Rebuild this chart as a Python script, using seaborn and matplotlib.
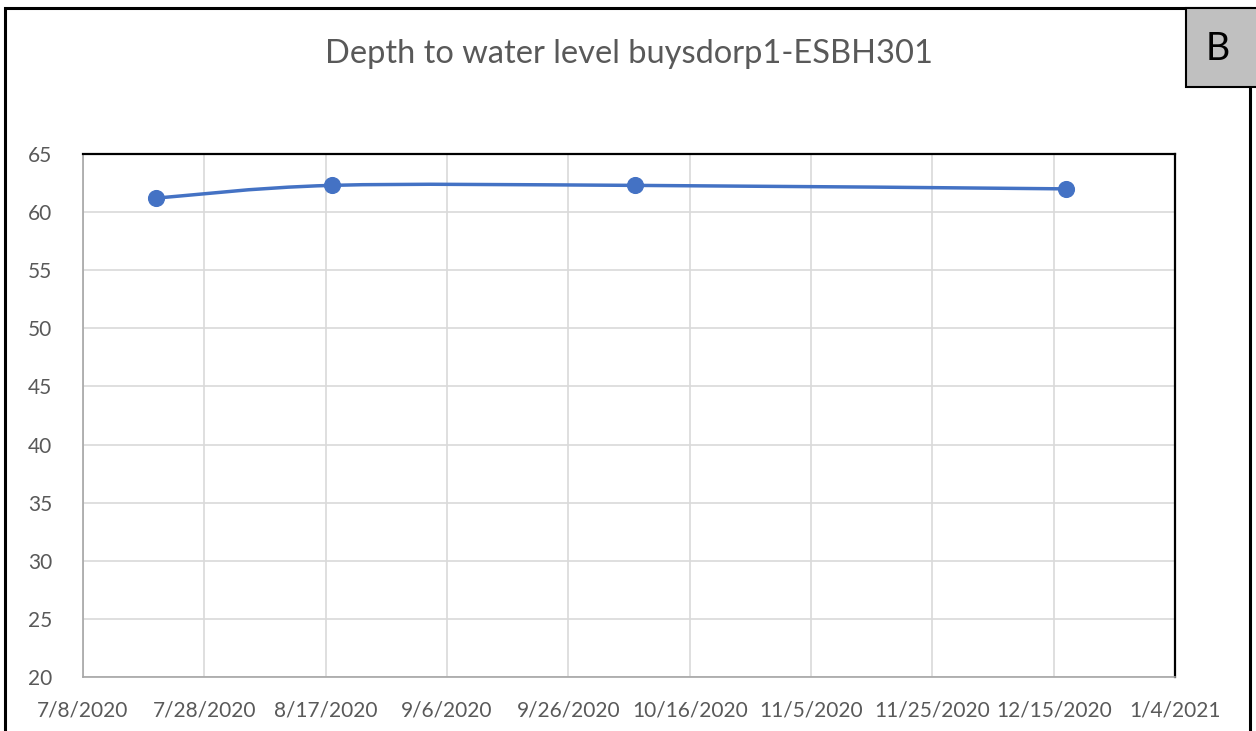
import datetime as dt
import matplotlib
matplotlib.use('Agg')
import matplotlib.pyplot as plt
import matplotlib.dates as mdates
from matplotlib.path import Path
from matplotlib.patches import PathPatch, Rectangle
import numpy as np
import pandas as pd
import seaborn as sns

# data
dates = ['2020-07-20', '2020-08-18', '2020-10-07', '2020-12-17']
depth = [61.2, 62.3, 62.3, 62.0]
x_ticks = ['2020-07-08', '2020-07-28', '2020-08-17', '2020-09-06', '2020-09-26',
           '2020-10-16', '2020-11-05', '2020-11-25', '2020-12-15', '2021-01-04']
title = 'Depth to water level buysdorp1-ESBH301'
panel = 'B'

df = pd.DataFrame({'date': pd.to_datetime(dates), 'depth': depth})

sns.set_style('white')
plt.rcParams['font.family'] = ['Lato', 'DejaVu Sans']

blue = '#4472C4'
grey_txt = '#595959'

fig = plt.figure(figsize=(12.56, 7.31), dpi=100)
ax = fig.add_axes([83/1256, 1-677/731, (1175-83)/1256, (677-154)/731])

# smoothed line (excel style bezier through the points)
xn = mdates.date2num(df['date'])
pts = np.column_stack([xn, df['depth']])
ext = np.vstack([pts[0], pts, pts[-1]])
verts = [pts[0]]
codes = [Path.MOVETO]
for i in range(1, len(ext) - 2):
    p0, p1, p2, p3 = ext[i-1], ext[i], ext[i+1], ext[i+2]
    verts += [p1 + (p2 - p0) / 6, p2 - (p3 - p1) / 6, p2]
    codes += [Path.CURVE4] * 3
ax.add_patch(PathPatch(Path(verts, codes), fill=False, ec=blue, lw=2.5,
                       capstyle='round', zorder=3))

sns.scatterplot(ax=ax, data=df, x='date', y='depth', color=blue, s=130,
                edgecolor=blue, zorder=4)

# axes
ax.set_xlim(pd.Timestamp(x_ticks[0]), pd.Timestamp(x_ticks[-1]))
ax.set_ylim(20, 65)
ax.set_yticks(range(20, 70, 5))
tk = pd.to_datetime(x_ticks)
ax.set_xticks(tk)
ax.set_xticklabels([f'{d.month}/{d.day}/{d.year}' for d in tk])
ax.grid(True, color='#d9d9d9', lw=1.2)
ax.set_axisbelow(True)
ax.set_xlabel('')
ax.set_ylabel('')
ax.tick_params(length=0, labelsize=15, labelcolor=grey_txt)
ax.tick_params(axis='y', pad=22)
ax.tick_params(axis='x', pad=17)
for s in ['top', 'right']:
    ax.spines[s].set_color('black')
    ax.spines[s].set_linewidth(1.6)
for s in ['left', 'bottom']:
    ax.spines[s].set_color('#a6a6a6')
    ax.spines[s].set_linewidth(1.2)

# title
fig.text(629/1256, 1-54/731, title, ha='center', va='center', fontsize=23.5,
         color=grey_txt)

# outer frame and panel letter
fig.add_artist(Rectangle((5/1256, -0.05), 1245/1256, 1.05-8/731, transform=fig.transFigure,
                         fill=False, ec='black', lw=2.2))
fig.add_artist(Rectangle((1186/1256, 1-87/731), 75/1256, 79/731, transform=fig.transFigure,
                         fc='#c0c0c0', ec='black', lw=1.5))
fig.text(1218/1256, 1-49/731, panel, ha='center', va='center', fontsize=27,
         color='black')

fig.savefig('out.png', dpi=100)
